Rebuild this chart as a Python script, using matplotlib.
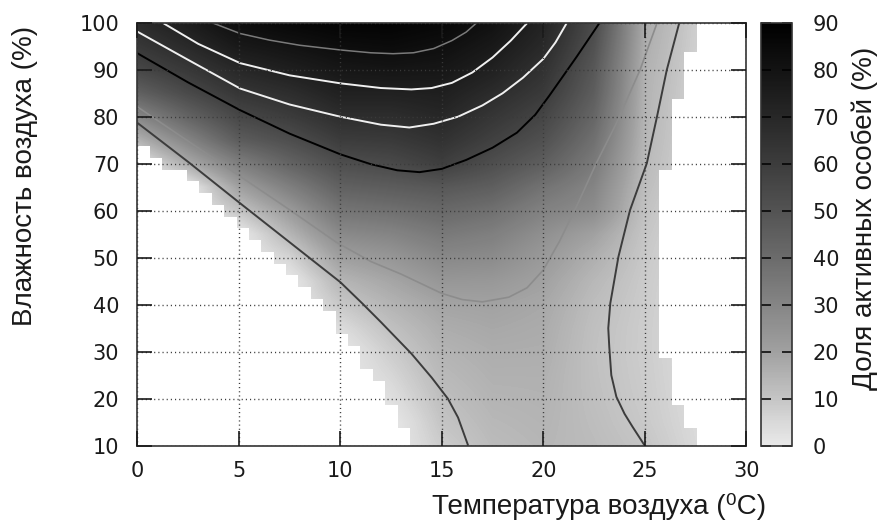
import numpy as np
import matplotlib
matplotlib.use("Agg")
import matplotlib.pyplot as plt
from matplotlib.colors import LinearSegmentedColormap

plt.rcParams["font.family"] = ["DejaVu Sans"]

nan = np.nan

# grid nodes of the activity surface (%)
temp_nodes = [0, 2.5, 5, 7.5, 10, 12.5, 15, 17.5, 20, 22.5, 25, 27.5]
hum_nodes = [10, 15, 20, 25, 30, 35, 40, 45, 50, 55, 60, 65, 70, 75, 80, 85, 90, 95, 100]

# rows: humidity, columns: temperature; nan = no data (white)
share_active = [
    [nan, nan, nan, nan, nan, nan, 8.0, 12.5, 14.0, 12.5, 10.0, 5.0],
    [nan, nan, nan, nan, nan, nan, 10.0, 13.5, 14.5, 12.0, 9.0, 4.6],
    [nan, nan, nan, nan, nan, 3.0, 11.5, 14.5, 15.0, 11.5, 8.5, 4.3],
    [nan, nan, nan, nan, nan, 5.5, 13.0, 15.5, 15.5, 11.2, 8.2, 4.1],
    [nan, nan, nan, nan, nan, 8.0, 14.5, 16.5, 16.3, 11.0, 8.0, 4.0],
    [nan, nan, nan, nan, 4.0, 11.0, 16.5, 18.0, 17.0, 11.3, 8.0, 4.0],
    [nan, nan, nan, nan, 9.0, 14.5, 19.0, 19.7, 18.0, 12.0, 8.2, 4.1],
    [nan, nan, nan, nan, 14.0, 18.5, 23.5, 23.0, 20.0, 13.5, 8.5, 4.3],
    [nan, nan, nan, 6.0, 20.5, 23.5, 28.5, 27.5, 22.5, 16.0, 9.0, 4.5],
    [nan, nan, nan, 14.0, 28.0, 30.0, 34.5, 32.0, 26.0, 20.0, 9.8, 4.8],
    [nan, nan, 10.0, 22.0, 36.0, 38.0, 41.0, 38.0, 31.0, 27.0, 10.8, 5.1],
    [nan, nan, 20.0, 32.0, 44.0, 46.0, 48.0, 45.0, 37.0, 30.0, 12.0, 5.4],
    [nan, 17.0, 32.0, 43.0, 52.0, 54.0, 59.0, 52.0, 45.0, 34.0, 13.2, 5.7],
    [15.0, 30.0, 46.0, 52.0, 60.0, 61.0, 65.0, 58.0, 51.0, 38.0, 14.0, 6.0],
    [29.0, 43.0, 55.0, 60.0, 67.0, 67.0, 70.0, 63.0, 56.0, 42.0, 14.5, 6.3],
    [44.0, 54.0, 63.0, 67.0, 73.0, 73.0, 74.0, 68.0, 61.0, 45.5, 15.0, 6.6],
    [55.0, 62.0, 70.0, 74.0, 78.0, 79.0, 78.0, 73.0, 65.0, 48.0, 15.5, 7.0],
    [62.0, 69.0, 77.0, 80.0, 83.0, 84.0, 82.0, 77.0, 69.0, 51.0, 16.5, 7.4],
    [68.0, 75.0, 83.0, 86.0, 88.0, 88.0, 86.0, 81.0, 72.0, 54.0, 17.5, 7.8],
]

# edges of the no-data area (step boundary)
left_hum_edges = [10, 11.25, 13.75, 16.25, 18.75, 21.25, 23.75, 26.25, 28.75, 31.25,
                  33.75, 36.25, 38.75, 41.25, 43.75, 46.25, 48.75, 51.25, 53.75,
                  56.25, 58.75, 61.25, 63.75, 66.25, 68.75, 71.25, 73.75]
left_temp_limit = [13.43, 13.43, 12.82, 12.82, 12.21, 12.21, 11.60, 10.99, 10.99,
                   10.38, 9.77, 9.77, 9.16, 8.55, 7.94, 7.33, 6.72, 6.11, 5.50,
                   4.89, 4.28, 3.67, 3.06, 2.45, 1.23, 0.62]
right_hum_edges = [10, 13.75, 18.75, 28.75, 68.75, 83.75, 93.75, 100]
right_temp_limit = [27.55, 26.94, 26.33, 25.72, 26.33, 26.94, 27.55]

# contour lines: (temperature, humidity)
iso10_left = [(0, 78.7), (2.5, 70.4), (5, 61.8), (7.5, 53.3), (10, 44.8), (11.1, 40.2),
              (12, 36.3), (13.5, 29.6), (14.5, 24.5), (15.3, 20.0), (15.8, 16.0), (16.3, 10)]
iso10_right = [(26.7, 100), (26.08, 89.9), (25.6, 80), (25.1, 70.1), (24.27, 60.1),
               (23.7, 50.2), (23.3, 40.3), (23.2, 35), (23.25, 31), (23.35, 25),
               (23.6, 20.4), (24.0, 16.8), (24.4, 14), (25.0, 10)]
iso20 = [(0, 82.1), (2.5, 74.8), (5, 67.5), (7.5, 60.2), (9.8, 53.3), (11.5, 49.2),
         (13, 46.5), (15, 42.4), (16, 41.1), (17, 40.6), (18.3, 41.6), (19.2, 43.6),
         (20, 47.4), (20.8, 53.5), (21.7, 61.5), (22.6, 70), (23.6, 78.6),
         (24.76, 89.9), (25.6, 99.9)]
iso50 = [(0, 93.5), (2.5, 87.3), (5.06, 81.4), (7.5, 76.4), (10, 72.0), (11.5, 69.9),
         (12.8, 68.6), (13.9, 68.2), (15, 68.9), (16.2, 70.8), (17.5, 73.4),
         (18.7, 76.6), (19.6, 80.4), (20.3, 84.5), (21.0, 88.8), (21.65, 92.8),
         (22.76, 99.9)]
iso60 = [(0, 98.1), (2.5, 92.1), (5.06, 86), (7.5, 82.6), (10, 80), (12, 78.3),
         (13.4, 77.7), (14.6, 78.5), (15.8, 80), (17, 82.4), (18, 85), (19, 88.3),
         (20, 92.3), (20.6, 95.8), (21.15, 99.9)]
iso70 = [(1.28, 99.9), (3, 95.5), (5.06, 91.4), (7.5, 88.8), (10, 87.1), (12, 86.1),
         (13.5, 85.8), (14.5, 86.1), (15.5, 87.2), (16.5, 89.4), (17.5, 92.6),
         (18.4, 96.2), (19.2, 99.9)]
iso80 = [(3.74, 99.9), (5.06, 97.7), (6.5, 96.3), (8, 95.2), (10, 94.2), (11.5, 93.6),
         (12.6, 93.4), (13.6, 93.6), (14.6, 94.5), (15.5, 96.2), (16.2, 98.0), (16.7, 99.9)]

# grey palette anchors (value -> grey level)
pal_values = [0, 5, 10, 20, 30, 40, 50, 60, 70, 80, 90]
pal_grey = [0.91, 0.85, 0.77, 0.63, 0.52, 0.42, 0.325, 0.237, 0.154, 0.075, 0.0]

cmap = LinearSegmentedColormap.from_list(
    "greys_act", [(v / 90.0, (g, g, g)) for v, g in zip(pal_values, pal_grey)])

fig = plt.figure(figsize=(8.78, 5.24), dpi=100)
ax = fig.add_axes([0.1564, 0.1494, 0.6936, 0.8073])

field = np.array(share_active, dtype=float)
field = np.nan_to_num(field, nan=0.0)  # hidden under the white area below
img = ax.imshow(field, origin="lower", cmap=cmap, vmin=0, vmax=90,
                interpolation="bilinear", aspect="auto",
                extent=(temp_nodes[0] - 1.25, temp_nodes[-1] + 1.25,
                        hum_nodes[0] - 2.5, hum_nodes[-1] + 2.5), zorder=0)

ax.stairs(left_temp_limit, left_hum_edges, orientation="horizontal", baseline=-1,
          fill=True, color="white", linewidth=0, zorder=1)
ax.stairs(right_temp_limit, right_hum_edges, orientation="horizontal", baseline=31,
          fill=True, color="white", linewidth=0, zorder=1)

line_styles = [
    (iso10_left, "#3c3c3c", 1.4),
    (iso10_right, "#3c3c3c", 1.4),
    (iso20, "#8c8c8c", 1.2),
    (iso50, "#000000", 1.4),
    (iso60, "#f0f0f0", 1.4),
    (iso70, "#f0f0f0", 1.4),
    (iso80, "#7a7a7a", 1.1),
]
for pts, col, lw in line_styles:
    t, h = zip(*pts)
    ax.plot(t, h, color=col, linewidth=lw, zorder=2, solid_capstyle="butt")

ax.set_xlim(0, 30)
ax.set_ylim(10, 100)
ax.set_xticks(range(0, 31, 5))
ax.set_yticks(range(10, 101, 10))
ax.grid(True, color="#3a3a3a", linestyle=(0, (0.8, 2.2)), linewidth=1.0)
ax.set_axisbelow(False)
ax.tick_params(direction="in", length=11, width=1.2, top=True, right=True,
               labelsize=15, colors="#1a1a1a")
ax.tick_params(axis="x", pad=11)
ax.tick_params(axis="y", pad=13)
for sp in ax.spines.values():
    sp.set_color("#333333")
    sp.set_linewidth(1.2)

label_font = ["Liberation Sans", "DejaVu Sans"]
fig.text(599 / 878, 1 - 507 / 524, "Температура воздуха (\u2070C)", family=label_font,
         fontsize=20, ha="center", va="center", color="#1a1a1a")
fig.text(25 / 878, 1 - 176 / 524, "Влажность воздуха (%)", family=label_font,
         fontsize=20, ha="center", va="center", rotation=90, color="#1a1a1a")

cax = fig.add_axes([0.8664, 0.1489, 0.0353, 0.8078])
cbar = fig.colorbar(img, cax=cax, ticks=range(0, 91, 10))
cbar.outline.set_edgecolor("#333333")
cbar.outline.set_linewidth(1.2)
cax.yaxis.set_ticks_position("both")
cax.tick_params(direction="in", length=7, width=1.1, colors="black",
                labelleft=False, labelright=True, labelsize=15, pad=15)
for lab in cax.get_yticklabels():
    lab.set_color("#1a1a1a")
fig.text(865 / 878, 1 - 218 / 524, "Доля активных особей (%)", family=label_font,
         fontsize=20, ha="center", va="center", rotation=90, color="#1a1a1a")

fig.savefig("out.png", dpi=100)
